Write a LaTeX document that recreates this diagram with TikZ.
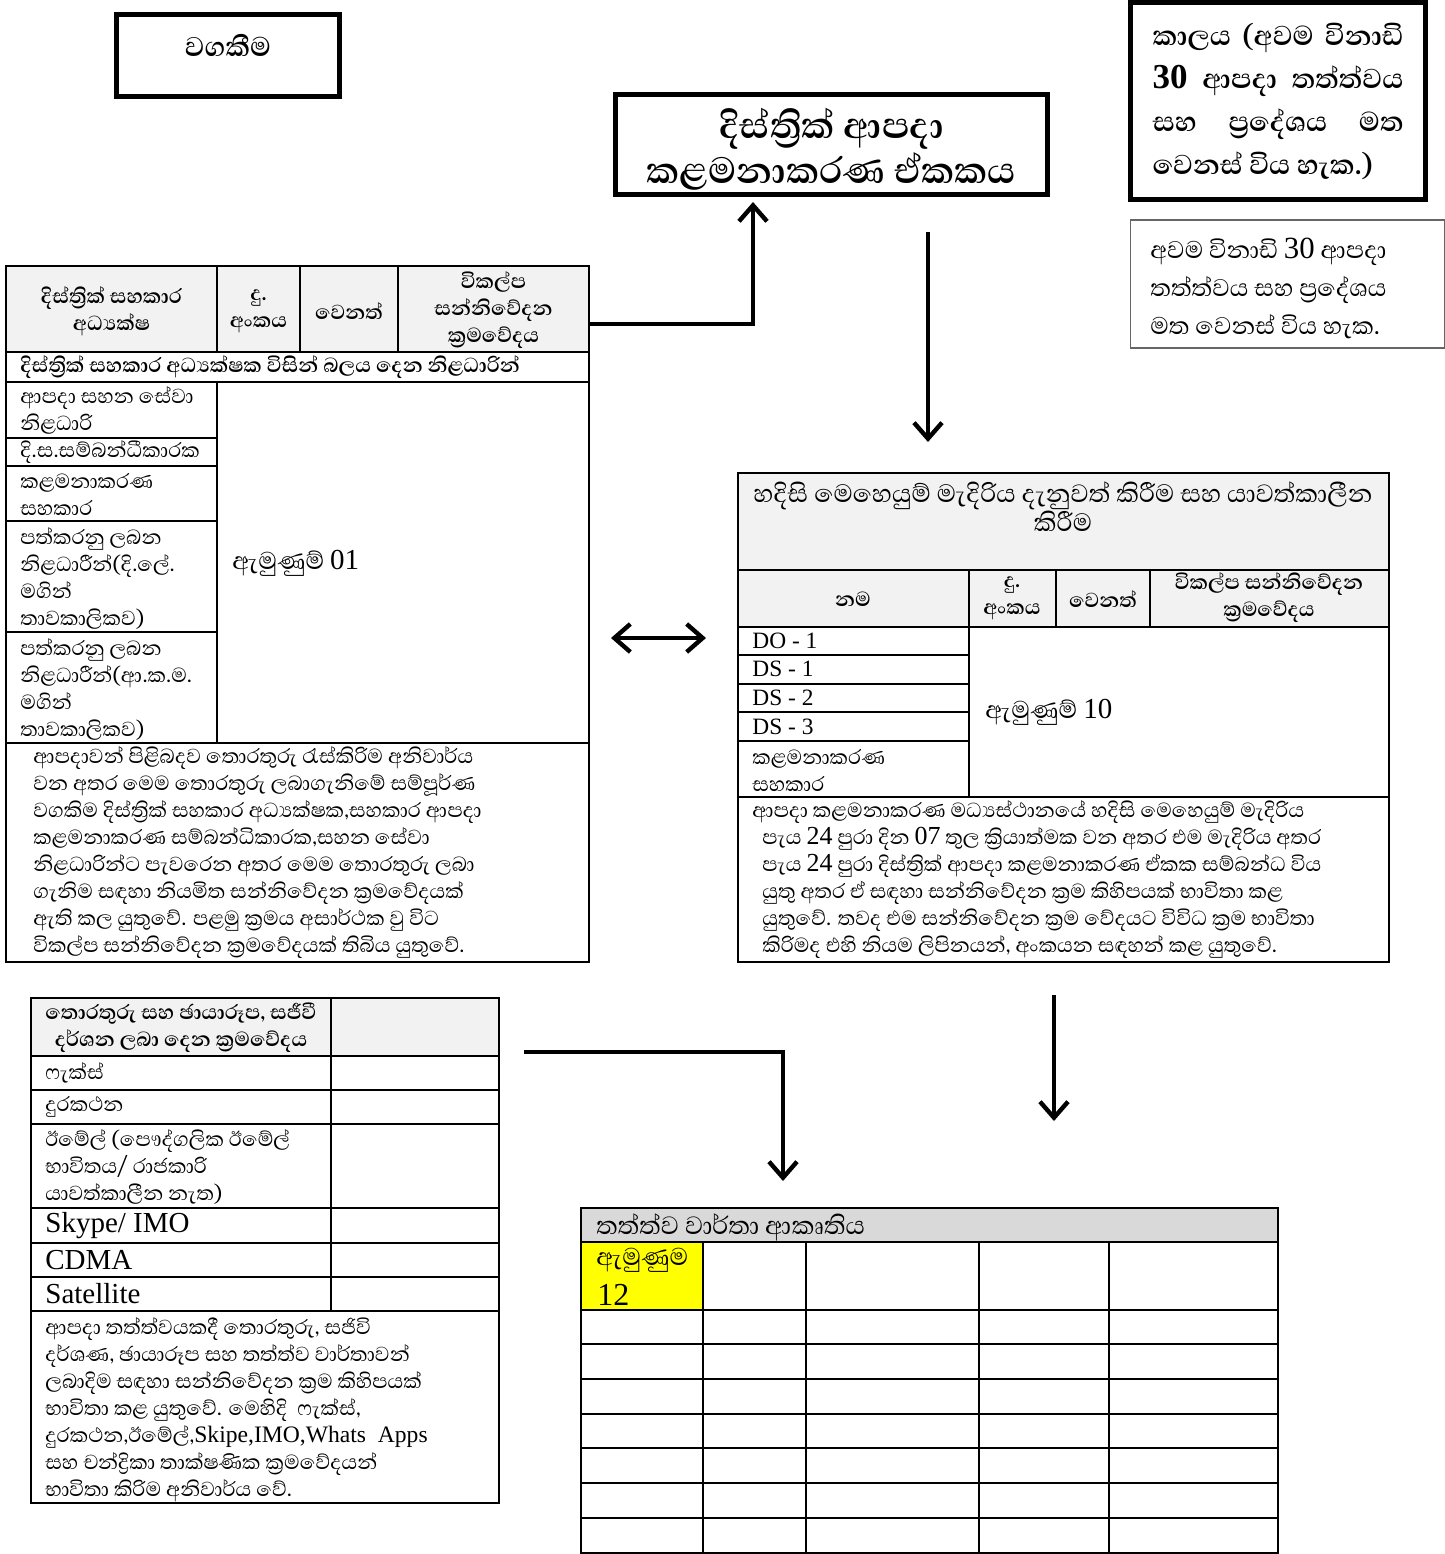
\documentclass[tikz,border=0pt]{standalone}
\usepackage{fontspec}
\setmainfont{Liberation Serif}
\newfontfamily\sinf[Script=Sinhala]{Abhaya Libre}
\usetikzlibrary{arrows.meta,calc}
\definecolor{hdrgray}{HTML}{F2F2F2}
\definecolor{ttlgray}{HTML}{D9D9D9}
\definecolor{annexyellow}{HTML}{FFFF00}
\newcommand{\lat}[1]{{\rmfamily #1}}
\tikzstyle{heavybox}=[draw,line width=2.6pt,inner sep=0pt]
\tikzstyle{notebox}=[draw=black!60,line width=0.6pt,inner sep=0pt]
\tikzstyle{cell}=[draw,line width=1pt]
\tikzstyle{arrowline}=[draw,line width=2.2pt,-{Straight Barb[length=8pt,width=14pt,line width=2.2pt]}]
\tikzstyle{twoway}=[draw,line width=2.2pt,{Straight Barb[length=8pt,width=14pt,line width=2.2pt]}-{Straight Barb[length=8pt,width=14pt,line width=2.2pt]}]
\tikzstyle{txt}=[inner sep=0pt,anchor=west,align=left]
\tikzstyle{ctxt}=[inner sep=0pt,align=center]
\tikzstyle{body}=[font=\sinf\fontsize{13}{13.5}\selectfont]
\tikzstyle{bodyb}=[font=\sinf\bfseries\fontsize{13}{13.5}\selectfont]
\tikzstyle{latin}=[font=\fontsize{11.7}{13}\selectfont]
\tikzstyle{biglatin}=[font=\fontsize{14.5}{17}\selectfont]
\tikzstyle{annex}=[font=\sinf\fontsize{15.5}{16}\selectfont]

\begin{document}
\begin{tikzpicture}[x=0.5pt,y=-0.5pt]
\useasboundingbox (0,0) rectangle (1445,1554);

% top boxes
\node[heavybox,minimum width=111.5pt,minimum height=41pt] (duty) at (228,55.5) {};
\node[ctxt,font=\sinf\bfseries\fontsize{17.3}{18}\selectfont] (dutytxt) at (228,45) {වගකීම};
\node[heavybox,minimum width=216pt,minimum height=50pt] (dmu) at (831.5,144.5) {};
\node[ctxt,font=\sinf\bfseries\fontsize{23.4}{22.5}\selectfont] (dmutxt) at (831.5,149.5) {දිස්ත්^^^^200dරික් ආපදා\\කළමනාකරණ ඒකකය};
\node[heavybox,minimum width=147.5pt,minimum height=98.5pt,align=left,font=\sinf\bfseries\fontsize{17.5}{21.5}\selectfont] (timebox) at (1278,101)
  {\makebox[125.5pt][s]{කාලය (අවම විනාඩි}\\
   \makebox[125.5pt][s]{\lat{30} ආපදා තත්ත්වය}\\
   \makebox[125.5pt][s]{සහ ප්^^^^200dරදේශය මත}\\
   වෙනස් විය හැක.)};
\node[notebox,minimum width=157pt,minimum height=64pt] (note) at (1287.5,284) {};
\node[txt,font=\sinf\fontsize{15.4}{19}\selectfont] (notetxt) at (1150,288)
  {අවම විනාඩි \lat{30} ආපදා\\තත්ත්වය සහ ප්^^^^200dරදේශය\\මත වෙනස් විය හැක.};

% left table
\fill[hdrgray] (6,266) rectangle (589,352);
\draw[cell] (6,266) rectangle (589,962);
\foreach \y in {352,382,743}
  \draw[cell] (6,\y) -- (589,\y);
\foreach \x in {217,300,398}
  \draw[cell] (\x,266) -- (\x,352);
\draw[cell] (217,382) -- (217,743);
\foreach \y in {438,466,521,632}
  \draw[cell] (6,\y) -- (217,\y);

\node[ctxt,bodyb] (lhname) at (111.5,311) {දිස්ත්^^^^200dරික් සහකාර\\අධ්^^^^200dයක්ෂ};
\node[ctxt,bodyb] (lhtel) at (258.5,311) {දු.\\අංකය};
\node[ctxt,bodyb] (lhother) at (349,311) {වෙනත්};
\node[ctxt,bodyb] (lhalt) at (493.5,310) {විකල්ප\\සන්නිවේදන\\ක්^^^^200dරමවේදය};
\node[txt,bodyb] (lhauth) at (20,367) {දිස්ත්^^^^200dරික් සහකාර අධ්^^^^200dයක්ෂක විසින් බලය දෙන නිළධාරින්};
\node[txt,body] (lr1) at (20,410) {ආපදා සහන සේවා\\නිළධාරි};
\node[txt,body] (lr2) at (20,452) {දි.ස.සම්බන්ධීකාරක};
\node[txt,body] (lr3) at (20,494) {කළමනාකරණ\\සහකාර};
\node[txt,body] (lr4) at (20,578) {පත්කරනු ලබන\\නිළධාරීන්(දි.ලේ.\\මගින්\\තාවකාලිකව)};
\node[txt,body] (lr5) at (20,689) {පත්කරනු ලබන\\නිළධාරීන්(ආ.ක.ම.\\මගින්\\තාවකාලිකව)};
\node[txt,annex] (annex1) at (232,563) {ඇමුණුම් {\rmfamily\fontsize{14.5}{16}\selectfont 01}};
\node[txt,body] (ltnote) at (33,853) {ආපදාවන් පිළිබදව තොරතුරු රැස්කිරිම අනිවාර්ය\\
වන අතර මෙම තොරතුරු ලබාගැනිමේ සම්පූර්ණ\\
වගකිම දිස්ත්^^^^200dරික් සහකාර අධ්^^^^200dයක්ෂක,සහකාර ආපදා\\
කළමනාකරණ සම්බන්ධිකාරක,සහන සේවා\\
නිළධාරින්ට පැවරෙන අතර මෙම තොරතුරු ලබා\\
ගැනිම සඳහා නියමිත සන්නිවේදන ක්^^^^200dරමවේදයක්\\
ඇති කල යුතුවේ. පළමු ක්^^^^200dරමය අසාර්ථක වු විට\\
විකල්ප සන්නිවේදන ක්^^^^200dරමවේදයක් තිබිය යුතුවේ.};

% right table: emergency operations room
\fill[hdrgray] (738,473) rectangle (1389,627);
\draw[cell] (738,473) rectangle (1389,962);
\foreach \y in {570,627,797}
  \draw[cell] (738,\y) -- (1389,\y);
\foreach \x in {969,1056,1150}
  \draw[cell] (\x,570) -- (\x,627);
\draw[cell] (969,627) -- (969,797);
\foreach \y in {655,684,712,741}
  \draw[cell] (738,\y) -- (969,\y);

\node[ctxt,font=\sinf\fontsize{16}{14.5}\selectfont] (rtitle) at (1063,507) {හදිසි මෙහෙයුම් මැදිරිය දැනුවත් කිරීම සහ යාවත්කාලීන\\කිරීම};
\node[ctxt,bodyb] (rhname) at (853,599) {නම};
\node[ctxt,bodyb] (rhtel) at (1012,598) {දු.\\අංකය};
\node[ctxt,bodyb] (rhother) at (1103,599) {වෙනත්};
\node[ctxt,bodyb] (rhalt) at (1269,598) {විකල්ප සන්නිවේදන\\ක්^^^^200dරමවේදය};
\foreach \y/\name/\lbl in {641/do1/{DO - 1}, 669/ds1/{DS - 1}, 698/ds2/{DS - 2}, 727/ds3/{DS - 3}}
  \node[txt,latin] (\name) at (752,\y) {\lbl};
\node[txt,body] (rr5) at (752,770) {කළමනාකරණ\\සහකාර};
\node[txt,annex] (annex10) at (985,712) {ඇමුණුම් {\rmfamily\fontsize{14.5}{16}\selectfont 10}};
\node[txt,body] (rtnote) at (752,880) {ආපදා කළමනාකරණ මධ්^^^^200dයස්ථානයේ හදිසි මෙහෙයුම් මැදිරිය\\
\hspace*{5pt}පැය \lat{24} පුරා දින \lat{07} තුල ක්^^^^200dරියාත්මක වන අතර එම මැදිරිය අතර\\
\hspace*{5pt}පැය \lat{24} පුරා දිස්ත්^^^^200dරික් ආපදා කළමනාකරණ ඒකක සම්බන්ධ විය\\
\hspace*{5pt}යුතු අතර ඒ සඳහා සන්නිවේදන ක්^^^^200dරම කිහිපයක් භාවිතා කළ\\
\hspace*{5pt}යුතුවේ. තවද එම සන්නිවේදන ක්^^^^200dරම වේදයට විවිධ ක්^^^^200dරම භාවිතා\\
\hspace*{5pt}කිරිමද එහි නියම ලිපිනයන්, අංකයන සඳහන් කළ යුතුවේ.};

% bottom left table: ways of sending information
\fill[hdrgray] (31,998) rectangle (499,1056);
\draw[cell] (31,998) rectangle (499,1503);
\foreach \y in {1056,1090,1124,1208,1243,1277,1311}
  \draw[cell] (31,\y) -- (499,\y);
\draw[cell] (331,998) -- (331,1311);

\node[ctxt,bodyb] (bhway) at (181,1028) {තොරතුරු සහ ඡායාරූප, සජීවී\\දර්ශන ලබා දෙන ක්^^^^200dරමවේදය};
\node[txt,body] (fax) at (45,1073) {ෆැක්ස්};
\node[txt,body] (phone) at (45,1107) {දුරකථන};
\node[txt,body] (email) at (45,1167) {ඊමේල් (පෞද්ගලික ඊමේල්\\භාවිතය/ රාජකාරි\\යාවත්කාලීන නැත)};
\foreach \y/\name/\lbl in {1226/skype/{Skype/ IMO}, 1260/cdma/{CDMA}, 1294/sat/{Satellite}}
  \node[txt,biglatin] (\name) at (45,\y) {\lbl};
\node[txt,body] (blnote) at (45,1410) {ආපදා තත්ත්වයකදී තොරතුරු, සජිවි\\
දර්ශණ, ඡායාරූප සහ තත්ත්ව වාර්තාවන්\\
ලබාදිම සඳහා සන්නිවේදන ක්^^^^200dරම කිහිපයක්\\
භාවිතා කළ යුතුවේ. මෙහිදි\ \ ෆැක්ස්,\\
දුරකථන,ඊමේල්,{\rmfamily\fontsize{11.8}{13.5}\selectfont Skipe,IMO,Whats\ \ Apps}\\
සහ චන්ද්^^^^200dරිකා තාක්ෂණික ක්^^^^200dරමවේදයන්\\
භාවිතා කිරිම අනිවාර්ය වේ.};

% bottom right table: situation report form
\fill[ttlgray] (581,1208) rectangle (1278,1242);
\fill[annexyellow] (581,1242) rectangle (703,1310);
\draw[cell] (581,1208) rectangle (1278,1553);
\foreach \y in {1242,1310,1344,1379,1414,1448,1483,1518}
  \draw[cell] (581,\y) -- (1278,\y);
\foreach \x in {703,806,979,1109}
  \draw[cell] (\x,1242) -- (\x,1553);
\node[txt,font=\sinf\fontsize{16}{14}\selectfont] (sitrep) at (596,1227) {තත්ත්ව වාර්තා ආකෘතිය};
\node[txt,font=\sinf\fontsize{15.5}{15.5}\selectfont] (annex12) at (596,1260) {ඇමුණුම};
\node[txt,font=\fontsize{16}{16}\selectfont] (annex12n) at (597,1295) {12};

% connectors
\coordinate (lt-out) at (589,324);
\coordinate (dmu-in) at (753,202);
\draw[arrowline] (lt-out) -| (dmu-in);
\coordinate (dmu-out) at (928,232);
\coordinate (eoc-in) at (928,442);
\draw[arrowline] (dmu-out) -- (eoc-in);
\coordinate (lt-side) at (611,638);
\coordinate (rt-side) at (706,638);
\draw[twoway] (lt-side) -- (rt-side);
\coordinate (rt-out) at (1054,995);
\coordinate (sr-in) at (1054,1121);
\draw[arrowline] (rt-out) -- (sr-in);
\coordinate (bl-out) at (524,1052);
\coordinate (sr-top) at (783,1181);
\draw[arrowline] (bl-out) -| (sr-top);

\end{tikzpicture}
\end{document}
